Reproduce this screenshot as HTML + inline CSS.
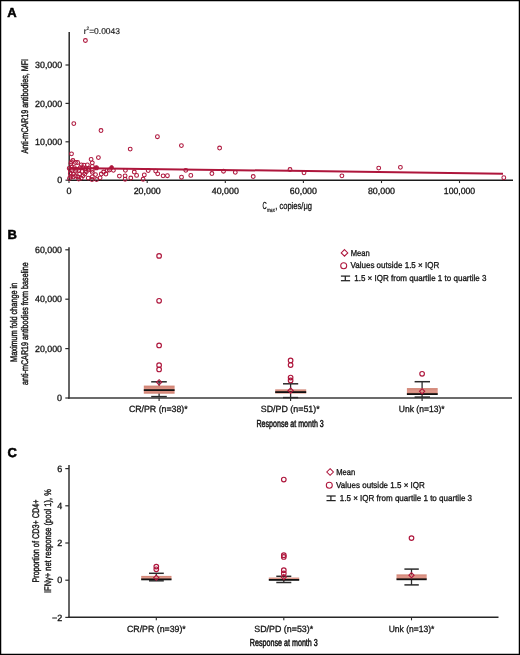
<!DOCTYPE html>
<html><head><meta charset="utf-8"><style>
html,body{margin:0;padding:0;background:#fff;}
svg{display:block;will-change:transform;}
text{font-family:"Liberation Sans", sans-serif;text-rendering:geometricPrecision;}
</style></head><body>
<svg width="520" height="655" viewBox="0 0 520 655">
<defs><linearGradient id="bg" x1="0" y1="0" x2="0" y2="1"><stop offset="0" stop-color="#cf8070"/><stop offset="0.5" stop-color="#e09a8d"/><stop offset="1" stop-color="#cf8070"/></linearGradient></defs>
<rect x="0" y="0" width="520" height="655" fill="#fff"/>
<text x="7.3" y="17.1" font-size="13" text-anchor="start" font-weight="bold" fill="#000" stroke="#000" stroke-width="0.5">A</text>
<line x1="69.2" y1="32" x2="69.2" y2="180.95" stroke="#222" stroke-width="1.45"/>
<line x1="68.5" y1="180.25" x2="513" y2="180.25" stroke="#1c1c1c" stroke-width="1.4"/>
<line x1="65.5" y1="180.2" x2="69.2" y2="180.2" stroke="#2b2b2b" stroke-width="1.2"/>
<text x="62.2" y="183.39999999999998" font-size="9" text-anchor="end" font-weight="normal" fill="#151515" stroke="#151515" stroke-width="0.3">0</text>
<line x1="65.5" y1="141.8" x2="69.2" y2="141.8" stroke="#2b2b2b" stroke-width="1.2"/>
<text x="62.2" y="145.0" font-size="9" text-anchor="end" font-weight="normal" fill="#151515" stroke="#151515" stroke-width="0.3" textLength="27.2" lengthAdjust="spacingAndGlyphs">10,000</text>
<line x1="65.5" y1="103.4" x2="69.2" y2="103.4" stroke="#2b2b2b" stroke-width="1.2"/>
<text x="62.2" y="106.60000000000001" font-size="9" text-anchor="end" font-weight="normal" fill="#151515" stroke="#151515" stroke-width="0.3" textLength="27.2" lengthAdjust="spacingAndGlyphs">20,000</text>
<line x1="65.5" y1="65" x2="69.2" y2="65" stroke="#2b2b2b" stroke-width="1.2"/>
<text x="62.2" y="68.2" font-size="9" text-anchor="end" font-weight="normal" fill="#151515" stroke="#151515" stroke-width="0.3" textLength="27.2" lengthAdjust="spacingAndGlyphs">30,000</text>
<line x1="69" y1="180.25" x2="69" y2="183.05" stroke="#2b2b2b" stroke-width="1.1"/>
<text x="69" y="193.9" font-size="9" text-anchor="middle" font-weight="normal" fill="#151515" stroke="#151515" stroke-width="0.3">0</text>
<line x1="147.2" y1="180.25" x2="147.2" y2="183.05" stroke="#2b2b2b" stroke-width="1.1"/>
<text x="147.2" y="193.9" font-size="9" text-anchor="middle" font-weight="normal" fill="#151515" stroke="#151515" stroke-width="0.3" textLength="27.1" lengthAdjust="spacingAndGlyphs">20,000</text>
<line x1="225.3" y1="180.25" x2="225.3" y2="183.05" stroke="#2b2b2b" stroke-width="1.1"/>
<text x="225.3" y="193.9" font-size="9" text-anchor="middle" font-weight="normal" fill="#151515" stroke="#151515" stroke-width="0.3" textLength="27.1" lengthAdjust="spacingAndGlyphs">40,000</text>
<line x1="303.4" y1="180.25" x2="303.4" y2="183.05" stroke="#2b2b2b" stroke-width="1.1"/>
<text x="303.4" y="193.9" font-size="9" text-anchor="middle" font-weight="normal" fill="#151515" stroke="#151515" stroke-width="0.3" textLength="27.1" lengthAdjust="spacingAndGlyphs">60,000</text>
<line x1="381.5" y1="180.25" x2="381.5" y2="183.05" stroke="#2b2b2b" stroke-width="1.1"/>
<text x="381.5" y="193.9" font-size="9" text-anchor="middle" font-weight="normal" fill="#151515" stroke="#151515" stroke-width="0.3" textLength="27.1" lengthAdjust="spacingAndGlyphs">80,000</text>
<line x1="459.5" y1="180.25" x2="459.5" y2="183.05" stroke="#2b2b2b" stroke-width="1.1"/>
<text x="459.5" y="193.9" font-size="9" text-anchor="middle" font-weight="normal" fill="#151515" stroke="#151515" stroke-width="0.3" textLength="31.4" lengthAdjust="spacingAndGlyphs">100,000</text>
<text x="262.4" y="208.6" font-size="10.2" text-anchor="start" font-weight="normal" fill="#151515" stroke="#151515" stroke-width="0.3" textLength="4.2" lengthAdjust="spacingAndGlyphs">C</text>
<text x="266.9" y="211.5" font-size="6" text-anchor="start" font-weight="normal" fill="#151515" stroke="#151515" stroke-width="0.2" textLength="7.9" lengthAdjust="spacingAndGlyphs">max</text>
<text x="275.2" y="208.6" font-size="9.6" text-anchor="start" font-weight="normal" fill="#151515" stroke="#151515" stroke-width="0.3" textLength="36.8" lengthAdjust="spacingAndGlyphs">, copies/μg</text>
<text transform="translate(28,106.25) rotate(-90)" x="0" y="0" font-size="9.6" text-anchor="middle" fill="#151515" stroke="#151515" stroke-width="0.4" textLength="94.5" lengthAdjust="spacingAndGlyphs">Anti-mCAR19 antibodies, MFI</text>
<text x="83.8" y="33.6" font-size="8.4" text-anchor="start" font-weight="normal" fill="#151515" stroke="#151515" stroke-width="0.15">r</text>
<text x="86.5" y="30.4" font-size="4.8" text-anchor="start" font-weight="normal" fill="#151515" stroke="#151515" stroke-width="0.1">2</text>
<text x="89.2" y="33.6" font-size="8.4" text-anchor="start" font-weight="normal" fill="#151515" stroke="#151515" stroke-width="0.15" textLength="30.8" lengthAdjust="spacingAndGlyphs">=0.0043</text>
<line x1="69" y1="167.9" x2="503" y2="173.7" stroke="#ae163c" stroke-width="2.0"/>
<circle cx="85.4" cy="40.5" r="1.9" fill="none" stroke="#ae163c" stroke-width="1.05"/>
<circle cx="73.8" cy="123.6" r="1.9" fill="none" stroke="#ae163c" stroke-width="1.05"/>
<circle cx="101" cy="130.5" r="1.9" fill="none" stroke="#ae163c" stroke-width="1.05"/>
<circle cx="157.4" cy="136.7" r="1.9" fill="none" stroke="#ae163c" stroke-width="1.05"/>
<circle cx="181.4" cy="145.6" r="1.9" fill="none" stroke="#ae163c" stroke-width="1.05"/>
<circle cx="219.6" cy="148" r="1.9" fill="none" stroke="#ae163c" stroke-width="1.05"/>
<circle cx="130.2" cy="149.1" r="1.9" fill="none" stroke="#ae163c" stroke-width="1.05"/>
<circle cx="71.5" cy="153.8" r="1.9" fill="none" stroke="#ae163c" stroke-width="1.05"/>
<circle cx="72.9" cy="160.5" r="1.9" fill="none" stroke="#ae163c" stroke-width="1.05"/>
<circle cx="77.6" cy="162.5" r="1.9" fill="none" stroke="#ae163c" stroke-width="1.05"/>
<circle cx="70.9" cy="163.4" r="1.9" fill="none" stroke="#ae163c" stroke-width="1.05"/>
<circle cx="91.1" cy="159.3" r="1.9" fill="none" stroke="#ae163c" stroke-width="1.05"/>
<circle cx="92.3" cy="162.8" r="1.9" fill="none" stroke="#ae163c" stroke-width="1.05"/>
<circle cx="83.9" cy="165.1" r="1.9" fill="none" stroke="#ae163c" stroke-width="1.05"/>
<circle cx="87.4" cy="164.8" r="1.9" fill="none" stroke="#ae163c" stroke-width="1.05"/>
<circle cx="92.3" cy="166.3" r="1.9" fill="none" stroke="#ae163c" stroke-width="1.05"/>
<circle cx="76.4" cy="169.4" r="1.9" fill="none" stroke="#ae163c" stroke-width="1.05"/>
<circle cx="79" cy="170.6" r="1.9" fill="none" stroke="#ae163c" stroke-width="1.05"/>
<circle cx="81.9" cy="171.4" r="1.9" fill="none" stroke="#ae163c" stroke-width="1.05"/>
<circle cx="86.2" cy="171.7" r="1.9" fill="none" stroke="#ae163c" stroke-width="1.05"/>
<circle cx="92.3" cy="170.3" r="1.9" fill="none" stroke="#ae163c" stroke-width="1.05"/>
<circle cx="92.3" cy="172.3" r="1.9" fill="none" stroke="#ae163c" stroke-width="1.05"/>
<circle cx="70.3" cy="173.5" r="1.9" fill="none" stroke="#ae163c" stroke-width="1.05"/>
<circle cx="73.5" cy="174" r="1.9" fill="none" stroke="#ae163c" stroke-width="1.05"/>
<circle cx="79.6" cy="173.8" r="1.9" fill="none" stroke="#ae163c" stroke-width="1.05"/>
<circle cx="83" cy="175.8" r="1.9" fill="none" stroke="#ae163c" stroke-width="1.05"/>
<circle cx="81.3" cy="178.1" r="1.9" fill="none" stroke="#ae163c" stroke-width="1.05"/>
<circle cx="88.2" cy="178.1" r="1.9" fill="none" stroke="#ae163c" stroke-width="1.05"/>
<circle cx="92.3" cy="176.9" r="1.9" fill="none" stroke="#ae163c" stroke-width="1.05"/>
<circle cx="69.5" cy="178.4" r="1.9" fill="none" stroke="#ae163c" stroke-width="1.05"/>
<circle cx="78.7" cy="179" r="1.9" fill="none" stroke="#ae163c" stroke-width="1.05"/>
<circle cx="92" cy="179.5" r="1.9" fill="none" stroke="#ae163c" stroke-width="1.05"/>
<circle cx="69.2" cy="168.3" r="1.9" fill="none" stroke="#ae163c" stroke-width="1.05"/>
<circle cx="72.1" cy="167.1" r="1.9" fill="none" stroke="#ae163c" stroke-width="1.05"/>
<circle cx="74.4" cy="167.7" r="1.9" fill="none" stroke="#ae163c" stroke-width="1.05"/>
<circle cx="75.5" cy="171.2" r="1.9" fill="none" stroke="#ae163c" stroke-width="1.05"/>
<circle cx="72.1" cy="170.6" r="1.9" fill="none" stroke="#ae163c" stroke-width="1.05"/>
<circle cx="70.3" cy="170" r="1.9" fill="none" stroke="#ae163c" stroke-width="1.05"/>
<circle cx="73.2" cy="176.9" r="1.9" fill="none" stroke="#ae163c" stroke-width="1.05"/>
<circle cx="75.5" cy="175.8" r="1.9" fill="none" stroke="#ae163c" stroke-width="1.05"/>
<circle cx="70.9" cy="176.3" r="1.9" fill="none" stroke="#ae163c" stroke-width="1.05"/>
<circle cx="77.8" cy="176.9" r="1.9" fill="none" stroke="#ae163c" stroke-width="1.05"/>
<circle cx="80.2" cy="167.7" r="1.9" fill="none" stroke="#ae163c" stroke-width="1.05"/>
<circle cx="83" cy="167.7" r="1.9" fill="none" stroke="#ae163c" stroke-width="1.05"/>
<circle cx="88.8" cy="168.3" r="1.9" fill="none" stroke="#ae163c" stroke-width="1.05"/>
<circle cx="88.2" cy="170" r="1.9" fill="none" stroke="#ae163c" stroke-width="1.05"/>
<circle cx="85.9" cy="168.8" r="1.9" fill="none" stroke="#ae163c" stroke-width="1.05"/>
<circle cx="81.3" cy="164.8" r="1.9" fill="none" stroke="#ae163c" stroke-width="1.05"/>
<circle cx="84.8" cy="174" r="1.9" fill="none" stroke="#ae163c" stroke-width="1.05"/>
<circle cx="75.5" cy="162.5" r="1.9" fill="none" stroke="#ae163c" stroke-width="1.05"/>
<circle cx="71.5" cy="161.9" r="1.9" fill="none" stroke="#ae163c" stroke-width="1.05"/>
<circle cx="98.4" cy="157.6" r="1.9" fill="none" stroke="#ae163c" stroke-width="1.05"/>
<circle cx="95.5" cy="174.6" r="1.9" fill="none" stroke="#ae163c" stroke-width="1.05"/>
<circle cx="100.1" cy="177.8" r="1.9" fill="none" stroke="#ae163c" stroke-width="1.05"/>
<circle cx="101.3" cy="174" r="1.9" fill="none" stroke="#ae163c" stroke-width="1.05"/>
<circle cx="103.6" cy="172" r="1.9" fill="none" stroke="#ae163c" stroke-width="1.05"/>
<circle cx="105.9" cy="174" r="1.9" fill="none" stroke="#ae163c" stroke-width="1.05"/>
<circle cx="107.3" cy="170.3" r="1.9" fill="none" stroke="#ae163c" stroke-width="1.05"/>
<circle cx="109.3" cy="170" r="1.9" fill="none" stroke="#ae163c" stroke-width="1.05"/>
<circle cx="113.4" cy="170.3" r="1.9" fill="none" stroke="#ae163c" stroke-width="1.05"/>
<circle cx="96.6" cy="179.5" r="1.9" fill="none" stroke="#ae163c" stroke-width="1.05"/>
<circle cx="119.4" cy="176.1" r="1.9" fill="none" stroke="#ae163c" stroke-width="1.05"/>
<circle cx="125.4" cy="170.3" r="1.9" fill="none" stroke="#ae163c" stroke-width="1.05"/>
<circle cx="125.1" cy="175.8" r="1.9" fill="none" stroke="#ae163c" stroke-width="1.05"/>
<circle cx="125.1" cy="179.2" r="1.9" fill="none" stroke="#ae163c" stroke-width="1.05"/>
<circle cx="130.8" cy="178" r="1.9" fill="none" stroke="#ae163c" stroke-width="1.05"/>
<circle cx="134.3" cy="172" r="1.9" fill="none" stroke="#ae163c" stroke-width="1.05"/>
<circle cx="136.6" cy="175.4" r="1.9" fill="none" stroke="#ae163c" stroke-width="1.05"/>
<circle cx="143.1" cy="179.2" r="1.9" fill="none" stroke="#ae163c" stroke-width="1.05"/>
<circle cx="144.3" cy="174.9" r="1.9" fill="none" stroke="#ae163c" stroke-width="1.05"/>
<circle cx="148.2" cy="170.5" r="1.9" fill="none" stroke="#ae163c" stroke-width="1.05"/>
<circle cx="155.7" cy="171.1" r="1.9" fill="none" stroke="#ae163c" stroke-width="1.05"/>
<circle cx="157.7" cy="173.8" r="1.9" fill="none" stroke="#ae163c" stroke-width="1.05"/>
<circle cx="163.1" cy="175.8" r="1.9" fill="none" stroke="#ae163c" stroke-width="1.05"/>
<circle cx="167.4" cy="175.7" r="1.9" fill="none" stroke="#ae163c" stroke-width="1.05"/>
<circle cx="181.5" cy="177.2" r="1.9" fill="none" stroke="#ae163c" stroke-width="1.05"/>
<circle cx="185.8" cy="170.3" r="1.9" fill="none" stroke="#ae163c" stroke-width="1.05"/>
<circle cx="190.8" cy="175.4" r="1.9" fill="none" stroke="#ae163c" stroke-width="1.05"/>
<circle cx="211.9" cy="173.5" r="1.9" fill="none" stroke="#ae163c" stroke-width="1.05"/>
<circle cx="223.5" cy="171.2" r="1.9" fill="none" stroke="#ae163c" stroke-width="1.05"/>
<circle cx="235.3" cy="172.3" r="1.9" fill="none" stroke="#ae163c" stroke-width="1.05"/>
<circle cx="253.2" cy="176.5" r="1.9" fill="none" stroke="#ae163c" stroke-width="1.05"/>
<circle cx="290" cy="169.5" r="1.9" fill="none" stroke="#ae163c" stroke-width="1.05"/>
<circle cx="304" cy="172.8" r="1.9" fill="none" stroke="#ae163c" stroke-width="1.05"/>
<circle cx="341.9" cy="175.8" r="1.9" fill="none" stroke="#ae163c" stroke-width="1.05"/>
<circle cx="378.7" cy="168.1" r="1.9" fill="none" stroke="#ae163c" stroke-width="1.05"/>
<circle cx="400.4" cy="167.3" r="1.9" fill="none" stroke="#ae163c" stroke-width="1.05"/>
<circle cx="503.8" cy="177.7" r="1.9" fill="none" stroke="#ae163c" stroke-width="1.05"/>
<circle cx="96.4" cy="167.8" r="2.0" fill="#ae163c" stroke="#ae163c" stroke-width="1.1"/>
<circle cx="111.6" cy="167.4" r="1.8" fill="#ae163c" stroke="#ae163c" stroke-width="1.0"/>
<text x="7.6" y="238.6" font-size="13" text-anchor="start" font-weight="bold" fill="#000" stroke="#000" stroke-width="0.5">B</text>
<line x1="69.0" y1="247.2" x2="69.0" y2="398.7" stroke="#333" stroke-width="1.5"/>
<line x1="68.3" y1="398.0" x2="512" y2="398.0" stroke="#3a3a3a" stroke-width="1.5"/>
<line x1="65.3" y1="398.0" x2="69.0" y2="398.0" stroke="#2b2b2b" stroke-width="1.2"/>
<text x="62" y="401.2" font-size="9" text-anchor="end" font-weight="normal" fill="#151515" stroke="#151515" stroke-width="0.3">0</text>
<line x1="65.3" y1="348.6" x2="69.0" y2="348.6" stroke="#2b2b2b" stroke-width="1.2"/>
<text x="62" y="351.8" font-size="9" text-anchor="end" font-weight="normal" fill="#151515" stroke="#151515" stroke-width="0.3" textLength="27" lengthAdjust="spacingAndGlyphs">20,000</text>
<line x1="65.3" y1="299.2" x2="69.0" y2="299.2" stroke="#2b2b2b" stroke-width="1.2"/>
<text x="62" y="302.4" font-size="9" text-anchor="end" font-weight="normal" fill="#151515" stroke="#151515" stroke-width="0.3" textLength="27" lengthAdjust="spacingAndGlyphs">40,000</text>
<line x1="65.3" y1="249.8" x2="69.0" y2="249.8" stroke="#2b2b2b" stroke-width="1.2"/>
<text x="62" y="253.0" font-size="9" text-anchor="end" font-weight="normal" fill="#151515" stroke="#151515" stroke-width="0.3" textLength="27" lengthAdjust="spacingAndGlyphs">60,000</text>
<text transform="translate(16.6,322.3) rotate(-90)" x="0" y="0" font-size="9.6" text-anchor="middle" fill="#151515" stroke="#151515" stroke-width="0.4" textLength="79.2" lengthAdjust="spacingAndGlyphs">Maximum fold change in</text>
<text transform="translate(28.4,323.6) rotate(-90)" x="0" y="0" font-size="9.6" text-anchor="middle" fill="#151515" stroke="#151515" stroke-width="0.4" textLength="122.8" lengthAdjust="spacingAndGlyphs">anti-mCAR19 antibodies from baseline</text>
<line x1="159.1" y1="381.8" x2="159.1" y2="396.6" stroke="#2b2b2b" stroke-width="1.3"/>
<rect x="143.8" y="385.6" width="30.799999999999983" height="8.099999999999966" fill="url(#bg)"/>
<line x1="143.8" y1="390.1" x2="174.6" y2="390.1" stroke="#111" stroke-width="1.8"/>
<line x1="151.2" y1="381.8" x2="166.8" y2="381.8" stroke="#2b2b2b" stroke-width="1.5"/>
<line x1="151.2" y1="396.6" x2="166.8" y2="396.6" stroke="#2b2b2b" stroke-width="1.5"/>
<path d="M159.1 379.7L161.7 382.3L159.1 384.90000000000003L156.5 382.3Z" fill="none" stroke="#ae163c" stroke-width="1.1"/>
<circle cx="159.1" cy="255.9" r="2.3" fill="none" stroke="#ae163c" stroke-width="1.15"/>
<circle cx="159.1" cy="300.8" r="2.3" fill="none" stroke="#ae163c" stroke-width="1.15"/>
<circle cx="159.1" cy="345.4" r="2.3" fill="none" stroke="#ae163c" stroke-width="1.15"/>
<circle cx="159.1" cy="365.2" r="2.3" fill="none" stroke="#ae163c" stroke-width="1.15"/>
<circle cx="159.1" cy="369.4" r="2.3" fill="none" stroke="#ae163c" stroke-width="1.15"/>
<line x1="290.6" y1="383.8" x2="290.6" y2="397.6" stroke="#2b2b2b" stroke-width="1.3"/>
<rect x="275.2" y="389.4" width="31.0" height="4.100000000000023" fill="url(#bg)"/>
<line x1="275.2" y1="392.1" x2="306.2" y2="392.1" stroke="#111" stroke-width="1.8"/>
<line x1="283" y1="383.8" x2="298.2" y2="383.8" stroke="#2b2b2b" stroke-width="1.5"/>
<line x1="283" y1="397.6" x2="298.2" y2="397.6" stroke="#2b2b2b" stroke-width="1.5"/>
<path d="M290.6 388.0L293.20000000000005 390.6L290.6 393.20000000000005L288.0 390.6Z" fill="none" stroke="#ae163c" stroke-width="1.1"/>
<circle cx="290.6" cy="360.4" r="2.3" fill="none" stroke="#ae163c" stroke-width="1.15"/>
<circle cx="290.6" cy="365" r="2.3" fill="none" stroke="#ae163c" stroke-width="1.15"/>
<circle cx="290.6" cy="377.5" r="2.3" fill="none" stroke="#ae163c" stroke-width="1.15"/>
<circle cx="290.6" cy="380.4" r="2.3" fill="none" stroke="#ae163c" stroke-width="1.15"/>
<line x1="422.1" y1="381.7" x2="422.1" y2="397.1" stroke="#2b2b2b" stroke-width="1.3"/>
<rect x="406.9" y="388.1" width="30.80000000000001" height="6.2999999999999545" fill="url(#bg)"/>
<line x1="406.9" y1="394.1" x2="437.7" y2="394.1" stroke="#111" stroke-width="1.8"/>
<line x1="414.6" y1="381.7" x2="430" y2="381.7" stroke="#2b2b2b" stroke-width="1.5"/>
<line x1="414.6" y1="397.1" x2="430" y2="397.1" stroke="#2b2b2b" stroke-width="1.5"/>
<path d="M422.1 388.7L424.70000000000005 391.3L422.1 393.90000000000003L419.5 391.3Z" fill="none" stroke="#ae163c" stroke-width="1.1"/>
<circle cx="422.1" cy="373.8" r="2.3" fill="none" stroke="#ae163c" stroke-width="1.15"/>
<line x1="159.1" y1="398.0" x2="159.1" y2="401.0" stroke="#2b2b2b" stroke-width="1.1"/>
<line x1="290.6" y1="398.0" x2="290.6" y2="401.0" stroke="#2b2b2b" stroke-width="1.1"/>
<line x1="422.1" y1="398.0" x2="422.1" y2="401.0" stroke="#2b2b2b" stroke-width="1.1"/>
<text x="158.3" y="412.4" font-size="9" text-anchor="middle" font-weight="normal" fill="#151515" stroke="#151515" stroke-width="0.3" textLength="58.8" lengthAdjust="spacingAndGlyphs">CR/PR (n=38)*</text>
<text x="290.2" y="412.4" font-size="9" text-anchor="middle" font-weight="normal" fill="#151515" stroke="#151515" stroke-width="0.3" textLength="58.9" lengthAdjust="spacingAndGlyphs">SD/PD (n=51)*</text>
<text x="421.7" y="412.4" font-size="9" text-anchor="middle" font-weight="normal" fill="#151515" stroke="#151515" stroke-width="0.3" textLength="45.7" lengthAdjust="spacingAndGlyphs">Unk (n=13)*</text>
<text x="290.15" y="426.5" font-size="10.2" text-anchor="middle" font-weight="normal" fill="#151515" stroke="#151515" stroke-width="0.5" textLength="67.3" lengthAdjust="spacingAndGlyphs">Response at month 3</text>
<path d="M344.5 249.6L347.8 252.9L344.5 256.2L341.2 252.9Z" fill="none" stroke="#ae163c" stroke-width="1.05"/>
<text x="350.7" y="255.6" font-size="8.6" text-anchor="start" font-weight="normal" fill="#151515" stroke="#151515" stroke-width="0.3" textLength="19" lengthAdjust="spacingAndGlyphs">Mean</text>
<circle cx="343.7" cy="265.7" r="3.0" fill="none" stroke="#ae163c" stroke-width="1.05"/>
<text x="350.5" y="268.2" font-size="8.6" text-anchor="start" font-weight="normal" fill="#151515" stroke="#151515" stroke-width="0.3" textLength="88.7" lengthAdjust="spacingAndGlyphs">Values outside 1.5 × IQR</text>
<line x1="340.9" y1="276.1" x2="350.1" y2="276.1" stroke="#222" stroke-width="1.25"/>
<line x1="340.9" y1="280.70000000000005" x2="350.1" y2="280.70000000000005" stroke="#222" stroke-width="1.25"/>
<line x1="345.3" y1="276.1" x2="345.3" y2="280.70000000000005" stroke="#222" stroke-width="1.25"/>
<text x="354.2" y="281.1" font-size="8.6" text-anchor="start" font-weight="normal" fill="#151515" stroke="#151515" stroke-width="0.3" textLength="132.3" lengthAdjust="spacingAndGlyphs">1.5 × IQR from quartile 1 to quartile 3</text>
<text x="7.4" y="457.4" font-size="13" text-anchor="start" font-weight="bold" fill="#000" stroke="#000" stroke-width="0.5">C</text>
<line x1="69.0" y1="465" x2="69.0" y2="618.0" stroke="#333" stroke-width="1.5"/>
<line x1="68.3" y1="617.3" x2="498.5" y2="617.3" stroke="#262626" stroke-width="1.45"/>
<line x1="65.3" y1="617.4" x2="69.0" y2="617.4" stroke="#2b2b2b" stroke-width="1.2"/>
<text x="62.2" y="620.6" font-size="9" text-anchor="end" font-weight="normal" fill="#151515" stroke="#151515" stroke-width="0.3">−2</text>
<line x1="65.3" y1="580.2" x2="69.0" y2="580.2" stroke="#2b2b2b" stroke-width="1.2"/>
<text x="62.2" y="583.4000000000001" font-size="9" text-anchor="end" font-weight="normal" fill="#151515" stroke="#151515" stroke-width="0.3">0</text>
<line x1="65.3" y1="543.0" x2="69.0" y2="543.0" stroke="#2b2b2b" stroke-width="1.2"/>
<text x="62.2" y="546.2" font-size="9" text-anchor="end" font-weight="normal" fill="#151515" stroke="#151515" stroke-width="0.3">2</text>
<line x1="65.3" y1="505.8" x2="69.0" y2="505.8" stroke="#2b2b2b" stroke-width="1.2"/>
<text x="62.2" y="509.0" font-size="9" text-anchor="end" font-weight="normal" fill="#151515" stroke="#151515" stroke-width="0.3">4</text>
<line x1="65.3" y1="468.6" x2="69.0" y2="468.6" stroke="#2b2b2b" stroke-width="1.2"/>
<text x="62.2" y="471.8" font-size="9" text-anchor="end" font-weight="normal" fill="#151515" stroke="#151515" stroke-width="0.3">6</text>
<text transform="translate(38.5,541.1) rotate(-90)" x="0" y="0" font-size="9.6" text-anchor="middle" fill="#151515" stroke="#151515" stroke-width="0.4" textLength="83" lengthAdjust="spacingAndGlyphs">Proportion of CD3+ CD4+</text>
<text transform="translate(50.7,541.1) rotate(-90)" x="0" y="0" font-size="9.6" text-anchor="middle" fill="#151515" stroke="#151515" stroke-width="0.4" textLength="103.8" lengthAdjust="spacingAndGlyphs">IFNγ+ net response (pool 1), %</text>
<line x1="156.3" y1="573.3" x2="156.3" y2="580.8" stroke="#2b2b2b" stroke-width="1.3"/>
<rect x="141.2" y="575.9" width="30.30000000000001" height="3.7000000000000455" fill="url(#bg)"/>
<line x1="141.2" y1="579.4" x2="171.5" y2="579.4" stroke="#111" stroke-width="1.8"/>
<line x1="149" y1="573.3" x2="163.8" y2="573.3" stroke="#2b2b2b" stroke-width="1.5"/>
<line x1="149" y1="580.8" x2="163.8" y2="580.8" stroke="#2b2b2b" stroke-width="1.5"/>
<path d="M156.3 575.1L158.9 577.7L156.3 580.3000000000001L153.70000000000002 577.7Z" fill="none" stroke="#ae163c" stroke-width="1.1"/>
<circle cx="156.3" cy="566.6" r="2.3" fill="none" stroke="#ae163c" stroke-width="1.15"/>
<circle cx="156.3" cy="569.3" r="2.3" fill="none" stroke="#ae163c" stroke-width="1.15"/>
<line x1="283.8" y1="576.3" x2="283.8" y2="582.5" stroke="#2b2b2b" stroke-width="1.3"/>
<rect x="268.8" y="577.6" width="30.399999999999977" height="2.0" fill="url(#bg)"/>
<line x1="268.8" y1="579.9" x2="299.2" y2="579.9" stroke="#111" stroke-width="1.8"/>
<line x1="276.3" y1="576.3" x2="291.3" y2="576.3" stroke="#2b2b2b" stroke-width="1.5"/>
<line x1="276.3" y1="582.5" x2="291.3" y2="582.5" stroke="#2b2b2b" stroke-width="1.5"/>
<path d="M283.8 574.4L286.40000000000003 577.0L283.8 579.6L281.2 577.0Z" fill="none" stroke="#ae163c" stroke-width="1.1"/>
<circle cx="283.8" cy="479.5" r="2.3" fill="none" stroke="#ae163c" stroke-width="1.15"/>
<circle cx="283.8" cy="555.2" r="2.3" fill="none" stroke="#ae163c" stroke-width="1.15"/>
<circle cx="283.8" cy="556.9" r="2.3" fill="none" stroke="#ae163c" stroke-width="1.15"/>
<circle cx="283.8" cy="570.2" r="2.3" fill="none" stroke="#ae163c" stroke-width="1.15"/>
<circle cx="283.8" cy="573.4" r="2.3" fill="none" stroke="#ae163c" stroke-width="1.15"/>
<line x1="411.5" y1="569.1" x2="411.5" y2="584.9" stroke="#2b2b2b" stroke-width="1.3"/>
<rect x="396.5" y="574.4" width="30.19999999999999" height="5.0" fill="url(#bg)"/>
<line x1="396.5" y1="579.3" x2="426.7" y2="579.3" stroke="#111" stroke-width="1.8"/>
<line x1="404.4" y1="569.1" x2="418.8" y2="569.1" stroke="#2b2b2b" stroke-width="1.5"/>
<line x1="404.4" y1="584.9" x2="418.8" y2="584.9" stroke="#2b2b2b" stroke-width="1.5"/>
<path d="M411.5 572.6L414.1 575.2L411.5 577.8000000000001L408.9 575.2Z" fill="none" stroke="#ae163c" stroke-width="1.1"/>
<circle cx="411.5" cy="538.1" r="2.3" fill="none" stroke="#ae163c" stroke-width="1.15"/>
<line x1="156.3" y1="617.3" x2="156.3" y2="620.3" stroke="#2b2b2b" stroke-width="1.1"/>
<line x1="283.8" y1="617.3" x2="283.8" y2="620.3" stroke="#2b2b2b" stroke-width="1.1"/>
<line x1="411.5" y1="617.3" x2="411.5" y2="620.3" stroke="#2b2b2b" stroke-width="1.1"/>
<text x="156.4" y="631.8" font-size="9" text-anchor="middle" font-weight="normal" fill="#151515" stroke="#151515" stroke-width="0.3" textLength="58.8" lengthAdjust="spacingAndGlyphs">CR/PR (n=39)*</text>
<text x="283.7" y="631.8" font-size="9" text-anchor="middle" font-weight="normal" fill="#151515" stroke="#151515" stroke-width="0.3" textLength="58.9" lengthAdjust="spacingAndGlyphs">SD/PD (n=53)*</text>
<text x="411.5" y="631.8" font-size="9" text-anchor="middle" font-weight="normal" fill="#151515" stroke="#151515" stroke-width="0.3" textLength="45.7" lengthAdjust="spacingAndGlyphs">Unk (n=13)*</text>
<text x="283.8" y="645.6" font-size="10.2" text-anchor="middle" font-weight="normal" fill="#151515" stroke="#151515" stroke-width="0.5" textLength="68" lengthAdjust="spacingAndGlyphs">Response at month 3</text>
<path d="M330.1 468.7L333.40000000000003 472.0L330.1 475.3L326.8 472.0Z" fill="none" stroke="#ae163c" stroke-width="1.05"/>
<text x="336.3" y="474.7" font-size="8.6" text-anchor="start" font-weight="normal" fill="#151515" stroke="#151515" stroke-width="0.3" textLength="19" lengthAdjust="spacingAndGlyphs">Mean</text>
<circle cx="329.3" cy="485.2" r="3.0" fill="none" stroke="#ae163c" stroke-width="1.05"/>
<text x="336.1" y="487.7" font-size="8.6" text-anchor="start" font-weight="normal" fill="#151515" stroke="#151515" stroke-width="0.3" textLength="88.7" lengthAdjust="spacingAndGlyphs">Values outside 1.5 × IQR</text>
<line x1="326.5" y1="496.0" x2="335.70000000000005" y2="496.0" stroke="#222" stroke-width="1.25"/>
<line x1="326.5" y1="500.6" x2="335.70000000000005" y2="500.6" stroke="#222" stroke-width="1.25"/>
<line x1="330.90000000000003" y1="496.0" x2="330.90000000000003" y2="500.6" stroke="#222" stroke-width="1.25"/>
<text x="339.8" y="501.0" font-size="8.6" text-anchor="start" font-weight="normal" fill="#151515" stroke="#151515" stroke-width="0.3" textLength="132.3" lengthAdjust="spacingAndGlyphs">1.5 × IQR from quartile 1 to quartile 3</text>
<rect x="0.6" y="0.6" width="518.8" height="653.8" fill="none" stroke="#000" stroke-width="1.3"/>
</svg>
</body></html>
